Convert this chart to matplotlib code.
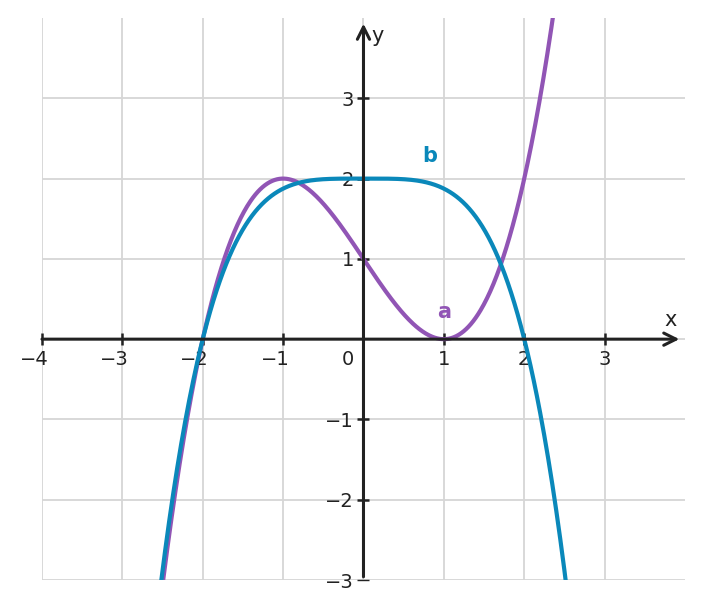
import matplotlib

matplotlib.use("Agg")
import matplotlib.pyplot as plt
import matplotlib.transforms as mtransforms
import numpy as np

# polynomial coefficients (highest power first)
a_coef = [0.5, 0.0, -1.5, 1.0]  # a: zeros at -2 and 1 (double), max 2 at -1
b_coef = [-0.125, 0.0, 0.0, 0.0, 2.0]  # b: flat top 2, zeros at -2 and 2
x_ticks = [-4, -3, -2, -1, 1, 2, 3]
y_ticks = [-3, -2, -1, 1, 2, 3]
grid_x = [-4, -3, -2, -1, 0, 1, 2, 3]
grid_y = [-3, -2, -1, 0, 1, 2, 3]

purple = "#9155b5"
blue = "#0a88ba"
ink = "#222222"

fig = plt.figure(figsize=(7.03, 6.09), dpi=100)
ax = fig.add_axes([0.0597, 0.0476, 0.9147, 0.9228])

xs = np.linspace(-4, 4, 800)
ax.plot(xs, np.polyval(a_coef, xs), color=purple, lw=3, zorder=3, solid_capstyle="butt")
ax.plot(xs, np.polyval(b_coef, xs), color=blue, lw=3, zorder=4, solid_capstyle="butt")

for gx in grid_x:
    ax.axvline(gx, color="#d6d6d6", lw=1.3, zorder=0)
for gy in grid_y:
    ax.axhline(gy, color="#d6d6d6", lw=1.3, zorder=0)

ax.set_xlim(-4, 4)
ax.set_ylim(-3, 4)

for s in ["top", "right", "left", "bottom"]:
    ax.spines[s].set_visible(False)
ax.spines["left"].set_position("zero")
ax.spines["bottom"].set_position("zero")

# axis lines with open arrow heads
ax.annotate("", xy=(3.93, 0), xytext=(-4, 0),
            arrowprops=dict(arrowstyle="->", lw=2.2, color=ink, mutation_scale=22,
                            shrinkA=0, shrinkB=0), zorder=6)
ax.annotate("", xy=(0, 3.93), xytext=(0, -2.96),
            arrowprops=dict(arrowstyle="->", lw=2.2, color=ink, mutation_scale=22,
                            shrinkA=0, shrinkB=0), zorder=6)

ax.set_xticks(x_ticks)
ax.set_yticks(y_ticks)
ax.set_xticklabels([])
ax.set_yticklabels(["\u2212%d" % -v if v < 0 else "%d" % v for v in y_ticks])
ax.tick_params(axis="both", direction="inout", length=8, width=1.8, color=ink,
               labelsize=14, labelcolor=ink)
ax.tick_params(axis="y", pad=3)
for t in ax.xaxis.get_major_ticks() + ax.yaxis.get_major_ticks():
    t.tick1line.set_zorder(7)
# bottom tick sits on the axes edge and shows only faintly
ax.yaxis.get_major_ticks()[0].tick1line.set_color("#bbbbbb")
ax.yaxis.get_major_ticks()[0].tick1line.set_markeredgewidth(1.0)

# x tick labels: digit centred on the tick, minus sign hanging left
shift = mtransforms.offset_copy(ax.transData, fig=fig, x=-5.8, y=0, units="points")
for v in x_ticks:
    if v < 0:
        ax.text(v, -0.14, "\u2212%d" % -v, transform=shift, ha="center", va="top",
                fontsize=14, color=ink)
    else:
        ax.text(v, -0.14, "%d" % v, ha="center", va="top", fontsize=14, color=ink)
ax.text(-0.2, -0.14, "0", ha="center", va="top", fontsize=14, color=ink)

ax.text(3.82, 0.24, "x", ha="center", va="center", fontsize=15, color=ink)
ax.text(0.18, 3.77, "y", ha="center", va="center", fontsize=15, color=ink)

ax.text(0.83, 2.28, "b", ha="center", va="center", fontsize=15, fontweight="bold", color=blue)
ax.text(1.0, 0.34, "a", ha="center", va="center", fontsize=15, fontweight="bold", color=purple)

fig.savefig("out.png", dpi=100)
plt.close(fig)
